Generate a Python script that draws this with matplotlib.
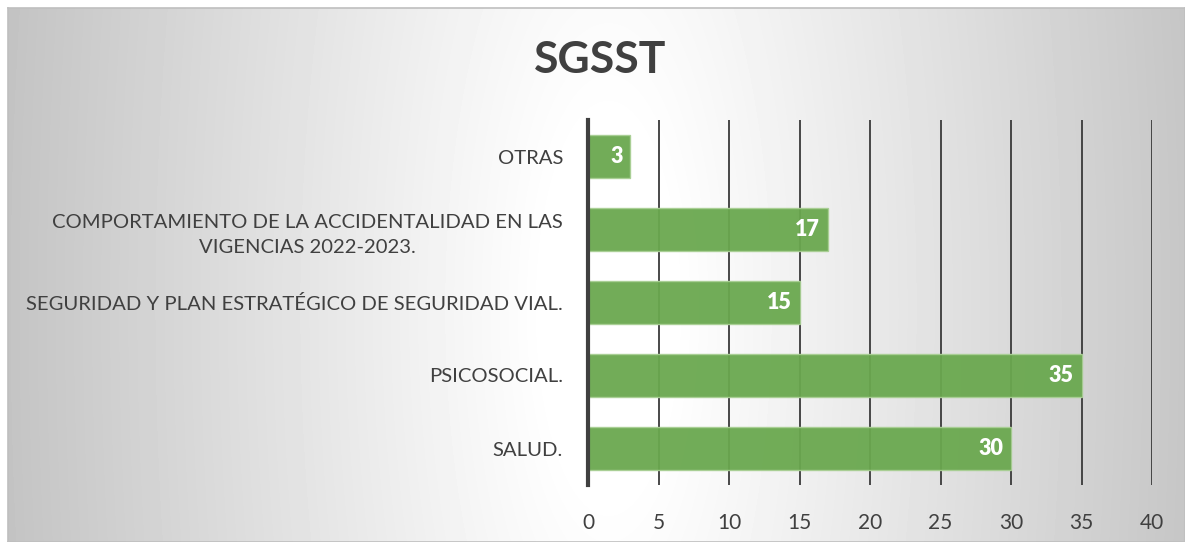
import numpy as np
import matplotlib.pyplot as plt

categories = ["SALUD.", "PSICOSOCIAL.",
              "SEGURIDAD Y PLAN ESTRATÉGICO DE SEGURIDAD VIAL.",
              "COMPORTAMIENTO DE LA ACCIDENTALIDAD EN LAS\nVIGENCIAS 2022-2023.",
              "OTRAS"]
values = [30, 35, 15, 17, 3]
xticks = [0, 5, 10, 15, 20, 25, 30, 35, 40]

plt.rcParams['font.family'] = ['Lato', 'DejaVu Sans']
txt = '#404040'
green = '#6aa84f'

W, H = 1185, 542
fig = plt.figure(figsize=(W / 100, H / 100), dpi=100)

# grey background, lighter in the middle
bg = fig.add_axes([8 / W, 0, 1 - 8 / W, 1 - 8 / H], zorder=-10)
yy, xx = np.mgrid[0:H - 8, 0:W - 8]
d = np.sqrt((xx - 600) ** 2 + (0.35 * (yy - 300)) ** 2)
shade = np.clip(262 - d * 0.11, 192, 255) / 255
bg.imshow(shade, cmap='gray', vmin=0, vmax=1, aspect='auto', interpolation='bilinear')
bg.set_xticks([])
bg.set_yticks([])
for s in bg.spines.values():
    s.set_color('#bfbfbf')
    s.set_linewidth(1.2)

ax = fig.add_axes([588 / W, 1 - 485 / H, (1152 - 588) / W, (485 - 120) / H])
ax.patch.set_alpha(0)
y = np.arange(len(categories))
bars = ax.barh(y, values, height=0.59, color=green, edgecolor='#a9cf94',
               linewidth=1, alpha=0.95, zorder=3)
for b, v in zip(bars, values):
    ax.text(v - 0.55, b.get_y() + b.get_height() / 2, str(v), ha='right', va='center',
            color='white', fontsize=15.5, fontweight='heavy', zorder=4)

ax.set_xlim(0, 40)
ax.set_ylim(-0.5, len(categories) - 0.5)
ax.set_xticks(xticks)
ax.set_xticklabels([str(t) for t in xticks], fontsize=15, color=txt)
ax.set_yticks(y)
ax.set_yticklabels(categories, fontsize=14.6, color=txt, multialignment='center',
                   linespacing=1.55)
ax.tick_params(axis='both', length=0)
ax.tick_params(axis='x', pad=20)
ax.tick_params(axis='y', pad=18)
ax.grid(axis='x', color='#3a3a3a', linewidth=1.3, zorder=0)
ax.set_axisbelow(True)
for s in ['top', 'right', 'bottom']:
    ax.spines[s].set_visible(False)
ax.spines['left'].set_color('#404040')
ax.spines['left'].set_linewidth(3)
ax.spines['left'].set_zorder(5)

fig.text(600 / W, 1 - 60 / H, 'SGSST', ha='center', va='center', fontsize=32,
         fontweight='bold', color='#404040')

fig.savefig('out.png', dpi=100)
